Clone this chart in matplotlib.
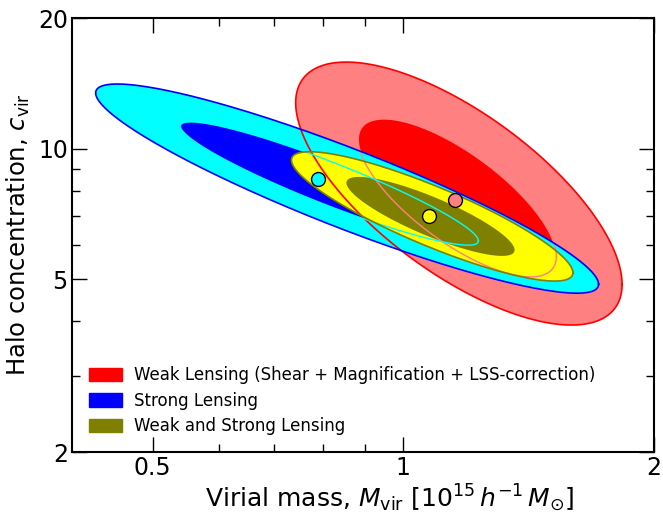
import numpy as np
import matplotlib
matplotlib.use("Agg")
import matplotlib.pyplot as plt
from matplotlib.patches import Patch

# confidence contours in (log10 M, log10 c): centre, half-extent in dex, correlation
# order: WL 2sig, WL 1sig, SL 2sig, SL 1sig, WL+SL 2sig, WL+SL 1sig
center_mass = [1.166, 1.161, 0.856, 0.815, 1.083, 1.078]
center_conc = [7.88, 7.70, 8.09, 8.31, 6.98, 6.98]
width_dex = [0.196, 0.119, 0.302, 0.179, 0.169, 0.101]
height_dex = [0.303, 0.182, 0.241, 0.142, 0.149, 0.091]
corr = [-0.69, -0.74, -0.914, -0.93, -0.87, -0.85]

fill_colors = ['#ff8080', '#ff0000', '#00ffff', '#0000ff', '#ffff00', '#808000']
edge_colors = ['#ff0000', '#ff8080', '#0000ff', '#00ffff', '#808000', None]

# best-fit points: WL, SL, WL+SL
best_mass = [1.152, 0.789, 1.075]
best_conc = [7.62, 8.51, 7.00]
best_colors = ['#ff8080', '#00ffff', '#ffff00']

legend_labels = ['Weak Lensing (Shear + Magnification + LSS-correction)',
                 'Strong Lensing', 'Weak and Strong Lensing']
legend_colors = ['#ff0000', '#0000ff', '#808000']


def contour_xy(m0, c0, sx, sy, rho, n=400):
    t = np.linspace(0, 2 * np.pi, n)
    u = np.log10(m0) + sx * np.cos(t)
    v = np.log10(c0) + sy * (rho * np.cos(t) + np.sqrt(1 - rho ** 2) * np.sin(t))
    return 10 ** u, 10 ** v


fig = plt.figure(figsize=(6.63, 5.14), dpi=100)
ax = fig.add_axes([72 / 663, 1 - 452 / 514, 582 / 663, 434 / 514])
ax.set_xscale('log')
ax.set_yscale('log')

curves = [contour_xy(center_mass[i], center_conc[i], width_dex[i], height_dex[i], corr[i])
          for i in range(len(center_mass))]

# filled regions first
for i, (x, y) in enumerate(curves):
    ax.fill(x, y, color=fill_colors[i], lw=0, zorder=1 + i)

# outlines on top of all fills
for i, (x, y) in enumerate(curves):
    if edge_colors[i] is not None:
        lw = 1.2 if i in (0, 2, 4) else 1.0
        ax.plot(x, y, color=edge_colors[i], lw=lw, zorder=10)

for m, c, col in zip(best_mass, best_conc, best_colors):
    ax.plot(m, c, 'o', ms=10, mfc=col, mec='black', mew=1.0, zorder=20)

ax.set_xlim(0.4, 2)
ax.set_ylim(2, 20)

ax.set_xticks([0.5, 1, 2])
ax.set_xticklabels(['0.5', '1', '2'])
ax.set_xticks([0.6, 0.7, 0.8, 0.9], minor=True)
ax.set_yticks([2, 5, 10, 20])
ax.set_yticklabels(['2', '5', '10', '20'])
ax.set_yticks([3, 4, 6, 7, 8, 9], minor=True)
ax.xaxis.set_minor_formatter(matplotlib.ticker.NullFormatter())
ax.yaxis.set_minor_formatter(matplotlib.ticker.NullFormatter())

ax.tick_params(which='both', direction='in', top=True, right=True, labelsize=17, width=1.0)
ax.tick_params(which='major', length=11, pad=3)
ax.tick_params(which='minor', length=6)
for s in ax.spines.values():
    s.set_linewidth(1.5)

ax.set_xlabel(r'Virial mass, $M_{\rm vir}$ [$10^{15}\,h^{-1}\,M_{\odot}$]', fontsize=18)
ax.set_ylabel(r'Halo concentration, $c_{\rm vir}$', fontsize=17.5)
ax.xaxis.set_label_coords(0.545, -0.07)
ax.yaxis.set_label_coords(-0.068, 0.5)

handles = [Patch(facecolor=c, edgecolor=c) for c in legend_colors]
ax.legend(handles, legend_labels, loc='lower left', frameon=False, fontsize=12,
          handlelength=2.0, handleheight=0.85, labelspacing=0.45,
          borderaxespad=0.6, handletextpad=0.7)

fig.savefig('out.png', dpi=100)
